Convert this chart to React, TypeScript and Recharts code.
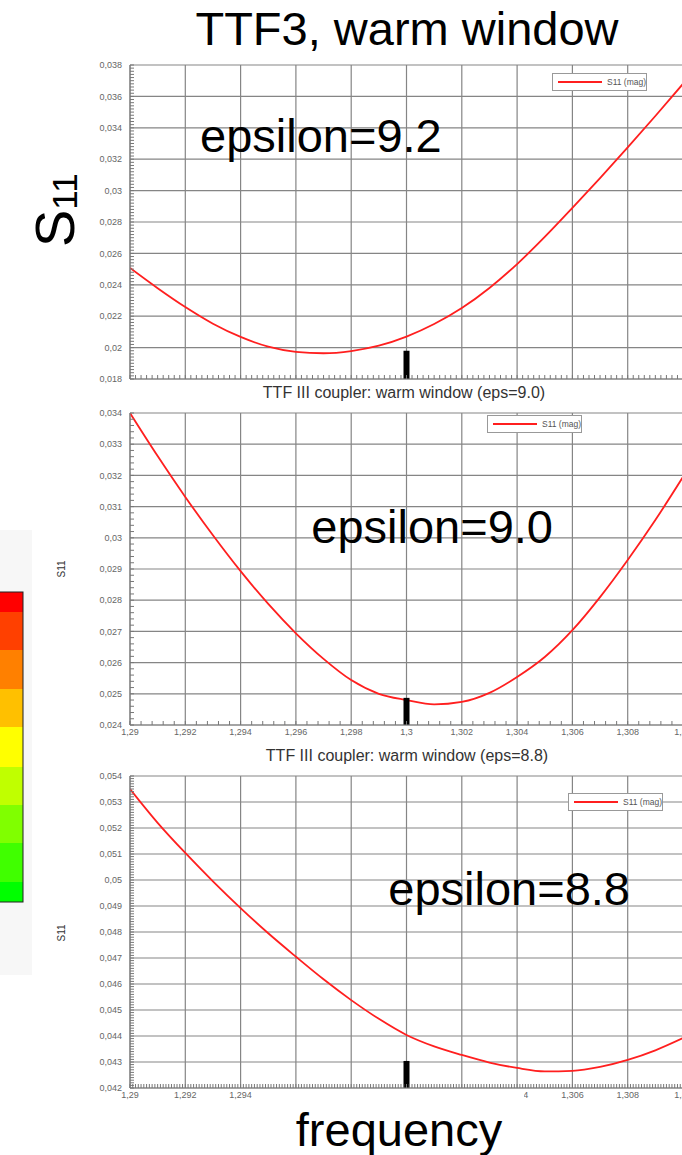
import React from 'react';
import { LineChart, Line, XAxis, YAxis, ReferenceLine, Legend } from 'recharts';

// frequency grid shared by the three sweeps
const FREQ = [
  1.29, 1.291, 1.292, 1.293, 1.294, 1.295, 1.296, 1.297, 1.298, 1.299, 1.3,
  1.301, 1.302, 1.303, 1.304, 1.305, 1.306, 1.307, 1.308, 1.309, 1.31,
];

// |S11| for the three permittivities
const S11_EPS_92 = [
  0.02507, 0.02378, 0.02258, 0.02152, 0.02068, 0.02006, 0.01973, 0.01964, 0.01978, 0.02012, 0.0207,
  0.0215, 0.02252, 0.0238, 0.02532, 0.02705, 0.0289, 0.0308, 0.03275, 0.03475, 0.0368,
];
const S11_EPS_90 = [
  0.034, 0.03262, 0.03131, 0.03008, 0.02893, 0.02788, 0.02694, 0.02612, 0.02544, 0.025, 0.0248,
  0.02466, 0.02474, 0.02503, 0.02554, 0.02618, 0.02704, 0.0281, 0.02929, 0.03057, 0.03195,
];
const S11_EPS_88 = [
  0.0535, 0.0522, 0.05104, 0.04995, 0.04892, 0.04795, 0.04705, 0.04618, 0.04538, 0.04466, 0.04404,
  0.0436, 0.04327, 0.04298, 0.04277, 0.04264, 0.04266, 0.04281, 0.04308, 0.04345, 0.04392,
];

const X_MAJOR = [1.29, 1.292, 1.294, 1.296, 1.298, 1.3, 1.302, 1.304, 1.306, 1.308, 1.31];
const Y_MAJOR_92 = [0.018, 0.02, 0.022, 0.024, 0.026, 0.028, 0.03, 0.032, 0.034, 0.036, 0.038];
const Y_MAJOR_90 = [0.024, 0.025, 0.026, 0.027, 0.028, 0.029, 0.03, 0.031, 0.032, 0.033, 0.034];
const Y_MAJOR_88 = [0.042, 0.043, 0.044, 0.045, 0.046, 0.047, 0.048, 0.049, 0.05, 0.051, 0.052, 0.053, 0.054];

const F0 = 1.3; // operating frequency marker

const RED = '#ff1f1f';
const GRID = '#858585';
const TICK_FONT = '"Liberation Sans", Arial, sans-serif';
const BIG_FONT = '"Liberation Sans", Arial, sans-serif';

// evenly spaced minor tick positions
const steps = (from: number, to: number, step: number) => {
  const out: number[] = [];
  const n = Math.round((to - from) / step);
  for (let i = 0; i <= n; i++) out.push(Math.round((from + i * step) * 1e7) / 1e7);
  return out;
};

const fmt = (v: number) => String(v).replace('.', ',');
const isIn = (list: number[], v: number) => list.some((m) => Math.abs(m - v) < 1e-9);

const xTick = (labelled: boolean) => (props: any) => {
  const { x, y, payload } = props;
  const v = payload.value as number;
  return (
    <g>
      <line x1={x} x2={x} y1={y} y2={y - 4} stroke="#777" strokeWidth={1} />
      {labelled && isIn(X_MAJOR, v) && (
        <text x={x} y={y + 4} dy="0.71em" textAnchor="middle" fontSize={9} fill="#666">
          {fmt(v)}
        </text>
      )}
    </g>
  );
};

const yTick = (majors: number[]) => (props: any) => {
  const { x, y, payload } = props;
  const v = payload.value as number;
  return (
    <g>
      <line x1={x} x2={x + 4} y1={y} y2={y} stroke="#777" strokeWidth={1} />
      {isIn(majors, v) && (
        <text x={x - 8} y={y} dy="0.35em" textAnchor="end" fontSize={9} fill="#666">
          {fmt(v)}
        </text>
      )}
    </g>
  );
};

const S11Legend = () => (
  <div
    style={{
      display: 'flex',
      alignItems: 'center',
      width: 95,
      height: 18,
      boxSizing: 'border-box',
      border: '1px solid #999',
      background: '#fff',
      fontFamily: TICK_FONT,
      fontSize: 8.5,
      color: '#555',
      whiteSpace: 'nowrap',
    }}
  >
    <span
      style={{ display: 'inline-block', flex: 'none', width: 44, height: 2, background: RED, margin: '0 5px 0 5px' }}
    />
    <span>S11 (mag)</span>
  </div>
);

type PanelProps = {
  top: number;
  height: number;
  axisHeight: number;
  values: number[];
  yDomain: [number, number];
  yMajor: number[];
  yStep: number;
  xStep: number;
  xLabels: boolean;
  markerTo: number;
  legendLeft: number;
  legendTop: number;
};

function Panel(p: PanelProps) {
  const rows = FREQ.map((f, i) => ({ f, s11: p.values[i] }));
  return (
    <div style={{ position: 'absolute', left: 0, top: p.top }}>
      <LineChart
        width={690}
        height={p.height}
        data={rows}
        margin={{ top: 10, right: 7, left: 0, bottom: 0 }}
        style={{ fontFamily: TICK_FONT }}
      >
        <XAxis
          dataKey="f"
          type="number"
          domain={[1.29, 1.31]}
          allowDataOverflow
          ticks={steps(1.29, 1.31, p.xStep)}
          interval={0}
          height={p.axisHeight}
          tickLine={false}
          tickSize={0}
          tickMargin={0}
          axisLine={{ stroke: GRID, strokeWidth: 1.2 }}
          tick={xTick(p.xLabels)}
        />
        <YAxis
          type="number"
          domain={p.yDomain}
          allowDataOverflow
          ticks={steps(p.yDomain[0], p.yDomain[1], p.yStep)}
          interval={0}
          width={130}
          tickLine={false}
          tickSize={0}
          tickMargin={0}
          axisLine={{ stroke: GRID, strokeWidth: 1.2 }}
          tick={yTick(p.yMajor)}
        />
        {X_MAJOR.map((v) => (
          <ReferenceLine key={`gx${v}`} x={v} stroke={GRID} strokeWidth={1.2} />
        ))}
        {p.yMajor.map((v) => (
          <ReferenceLine key={`gy${v}`} y={v} stroke={GRID} strokeWidth={1.2} />
        ))}
        <Legend
          layout="vertical"
          align="center"
          verticalAlign="middle"
          content={S11Legend}
          wrapperStyle={{ left: p.legendLeft, top: p.legendTop - p.top, width: 95, height: 18 }}
        />
        <Line
          dataKey="s11"
          name="S11 (mag)"
          type="monotone"
          stroke={RED}
          strokeWidth={1.8}
          dot={false}
          isAnimationActive={false}
        />
        <ReferenceLine
          segment={[
            { x: F0, y: p.yDomain[0] },
            { x: F0, y: p.markerTo },
          ]}
          stroke="#000"
          strokeWidth={6}
        />
      </LineChart>
    </div>
  );
}

// colour scale strip on the left edge
const STRIP = [
  { y0: 592, y1: 612, c: '#ff0000' },
  { y0: 612, y1: 650, c: '#ff4000' },
  { y0: 650, y1: 689, c: '#ff8000' },
  { y0: 689, y1: 727, c: '#ffc000' },
  { y0: 727, y1: 767, c: '#ffff00' },
  { y0: 767, y1: 805, c: '#c0ff00' },
  { y0: 805, y1: 843, c: '#80ff00' },
  { y0: 843, y1: 882, c: '#40ff00' },
  { y0: 882, y1: 902, c: '#00ff00' },
];

export default function App() {
  return (
    <div
      style={{
        position: 'absolute',
        left: 0,
        top: 0,
        width: 682,
        height: 1155,
        overflow: 'hidden',
        background: '#fff',
      }}
    >
      <Panel
        top={55}
        height={344}
        axisHeight={20}
        values={S11_EPS_92}
        yDomain={[0.018, 0.038]}
        yMajor={Y_MAJOR_92}
        yStep={0.0002}
        xStep={0.0002}
        xLabels={false}
        markerTo={0.0198}
        legendLeft={552}
        legendTop={73}
      />
      <Panel
        top={403}
        height={346}
        axisHeight={24}
        values={S11_EPS_90}
        yDomain={[0.024, 0.034]}
        yMajor={Y_MAJOR_90}
        yStep={0.0002}
        xStep={0.0004}
        xLabels={true}
        markerTo={0.02487}
        legendLeft={487}
        legendTop={415}
      />
      <Panel
        top={766}
        height={346}
        axisHeight={24}
        values={S11_EPS_88}
        yDomain={[0.042, 0.054]}
        yMajor={Y_MAJOR_88}
        yStep={0.0001}
        xStep={0.0001}
        xLabels={true}
        markerTo={0.04304}
        legendLeft={568}
        legendTop={793}
      />

      <svg
        width={682}
        height={1155}
        style={{ position: 'absolute', left: 0, top: 0, pointerEvents: 'none' }}
      >
        {/* colour strip */}
        <rect x={0} y={530} width={32} height={445} fill="#f7f7f7" />
        {STRIP.map((s) => (
          <rect key={s.c} x={0} y={s.y0} width={23} height={s.y1 - s.y0} fill={s.c} />
        ))}
        <rect x={-1} y={592} width={24} height={310} fill="none" stroke="#222" strokeWidth={1} />

        {/* slide annotations */}
        <g fontFamily={BIG_FONT} fill="#000">
          <text x={407} y={45} fontSize={47} textAnchor="middle">
            TTF3, warm window
          </text>
          <text x={200} y={152} fontSize={47}>
            epsilon=9.2
          </text>
          <text x={553} y={543} fontSize={47} textAnchor="end">
            epsilon=9.0
          </text>
          <text x={630} y={905} fontSize={47} textAnchor="end">
            epsilon=8.8
          </text>
          <text transform="translate(74 247) rotate(-90)" fontSize={56}>
            S<tspan fontSize={35} dy={3}>11</tspan>
          </text>
        </g>

        {/* plot titles and axis captions */}
        <g fontFamily={TICK_FONT} fill="#333">
          <text x={404} y={398} fontSize={16} textAnchor="middle">
            TTF III coupler: warm window (eps=9.0)
          </text>
          <text x={407} y={761} fontSize={16} textAnchor="middle">
            TTF III coupler: warm window (eps=8.8)
          </text>
          <text transform="translate(65 569) rotate(-90)" fontSize={10} textAnchor="middle">
            S11
          </text>
          <text transform="translate(65 933) rotate(-90)" fontSize={10} textAnchor="middle">
            S11
          </text>
        </g>

        {/* caption box over the lower tick labels */}
        <rect x={252} y={1091} width={272} height={64} fill="#fff" />
        <text x={399} y={1146} fontSize={47} textAnchor="middle" fontFamily={BIG_FONT} fill="#000">
          frequency
        </text>
      </svg>
    </div>
  );
}
